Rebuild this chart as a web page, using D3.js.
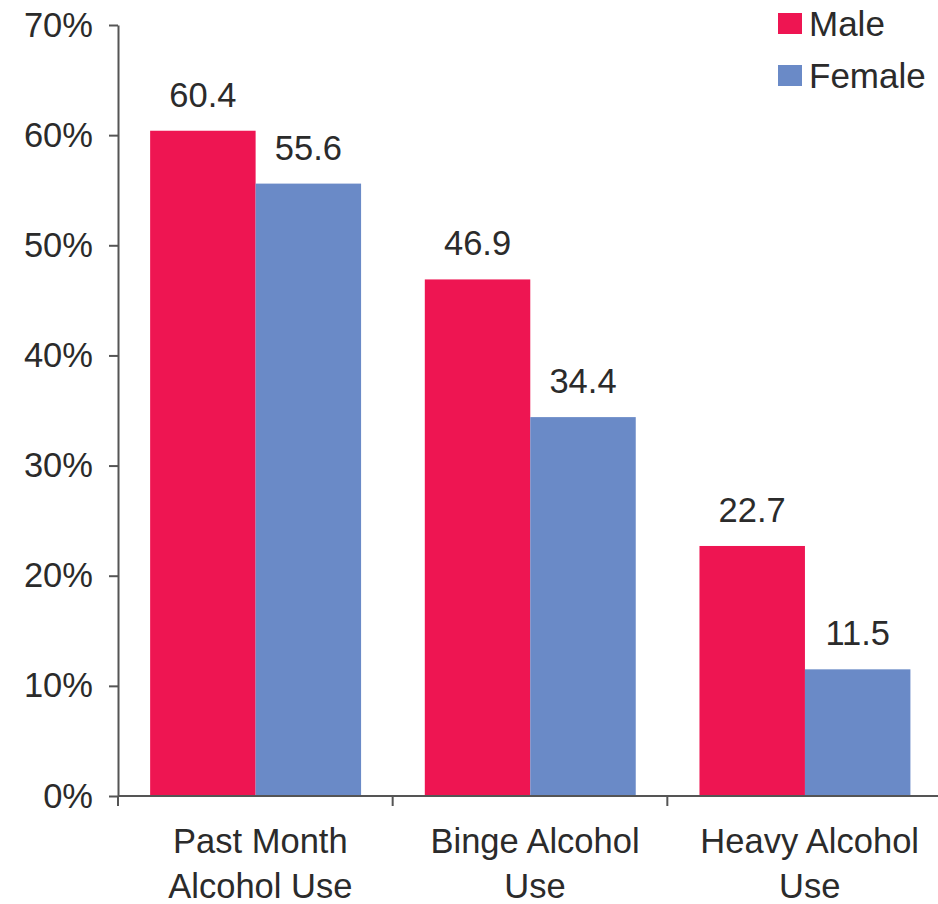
<!DOCTYPE html>
<html>
<head>
<meta charset="utf-8">
<script src="https://cdn.jsdelivr.net/npm/d3@7"></script>
<style>
  html, body { margin: 0; padding: 0; background: #fff; }
  svg { display: block; }
  text { font-family: "Liberation Sans", Arial, Helvetica, sans-serif; fill: #2b2b2b; }
</style>
</head>
<body>
<svg id="chart" width="938" height="904"></svg>
<script>
const categories = [["Past Month", "Alcohol Use"], ["Binge Alcohol", "Use"], ["Heavy Alcohol", "Use"]];
const seriesNames = ["Male", "Female"];
const maleValues = [60.4, 46.9, 22.7];
const femaleValues = [55.6, 34.4, 11.5];
const yTicks = [0, 10, 20, 30, 40, 50, 60, 70];
const colors = ["#EE1552", "#6A8AC7"];

(function () {
const svg = d3.select("#chart");
const mLeft = 118, mRight = 942, mTop = 25, mBottom = 796;

const catKeys = categories.map(c => c.join(" "));
const x0 = d3.scaleBand().domain(catKeys).range([mLeft, mRight]).padding(0);
const bw = x0.bandwidth();
const x1 = d3.scaleBand().domain(seriesNames).range([bw * 0.117, bw * 0.885]).padding(0);
const y = d3.scaleLinear().domain([0, 70]).range([mBottom, mTop]);

const data = catKeys.map((k, i) => ({ key: k, vals: [maleValues[i], femaleValues[i]] }));

// bars
const g = svg.append("g");
const groups = g.selectAll("g.cat").data(data).join("g")
  .attr("transform", d => `translate(${x0(d.key)},0)`);
groups.selectAll("rect").data(d => d.vals.map((v, j) => ({ name: seriesNames[j], v, j })))
  .join("rect")
  .attr("x", d => x1(d.name))
  .attr("y", d => y(d.v))
  .attr("width", x1.bandwidth())
  .attr("height", d => y(0) - y(d.v))
  .attr("fill", d => colors[d.j]);
groups.selectAll("text.val").data(d => d.vals.map((v, j) => ({ name: seriesNames[j], v, j })))
  .join("text")
  .attr("class", "val")
  .attr("x", d => x1(d.name) + x1.bandwidth() / 2)
  .attr("y", d => y(d.v) - 24)
  .attr("text-anchor", "middle")
  .style("font-size", "34.5px")
  .text(d => d.v.toFixed(1));

// y axis
const yAxis = svg.append("g").attr("transform", `translate(${mLeft},0)`)
  .call(d3.axisLeft(y).tickValues(yTicks).tickFormat(d => d + "%").tickSize(9).tickSizeOuter(0).tickPadding(16));
yAxis.select(".domain").attr("stroke", "#555").attr("stroke-width", 2);
yAxis.selectAll(".tick line").attr("stroke", "#555").attr("stroke-width", 2);
yAxis.selectAll(".tick text").style("font-size", "34.5px").attr("fill", "#2b2b2b")
  .style("font-family", "'Liberation Sans', Arial, sans-serif");

// x axis
const xAxisG = svg.append("g").attr("transform", `translate(0,${mBottom})`);
xAxisG.append("line").attr("x1", mLeft).attr("x2", mRight).attr("y1", 0).attr("y2", 0)
  .attr("stroke", "#555").attr("stroke-width", 2);
const boundaries = catKeys.map(k => x0(k)).concat([mRight]);
xAxisG.selectAll("line.tk").data(boundaries).join("line")
  .attr("class", "tk")
  .attr("x1", d => d).attr("x2", d => d).attr("y1", 0).attr("y2", 10)
  .attr("stroke", "#555").attr("stroke-width", 2);
const labels = xAxisG.selectAll("text.cat").data(categories).join("text")
  .attr("class", "cat")
  .attr("text-anchor", "middle")
  .style("font-size", "34.5px")
  .attr("transform", (d, i) => `translate(${x0(catKeys[i]) + bw / 2 + 5},0)`);
labels.selectAll("tspan").data(d => d).join("tspan")
  .attr("x", 0)
  .attr("y", (d, i) => 57 + i * 45)
  .text(d => d);

// legend
const legend = svg.append("g");
seriesNames.forEach((n, i) => {
  const ly = 13 + i * 52;
  legend.append("rect").attr("x", 778).attr("y", ly).attr("width", 24).attr("height", 21).attr("fill", colors[i]);
  legend.append("text").attr("x", 809).attr("y", ly + 23).style("font-size", "35px").text(n);
});
})();
</script>
</body>
</html>
